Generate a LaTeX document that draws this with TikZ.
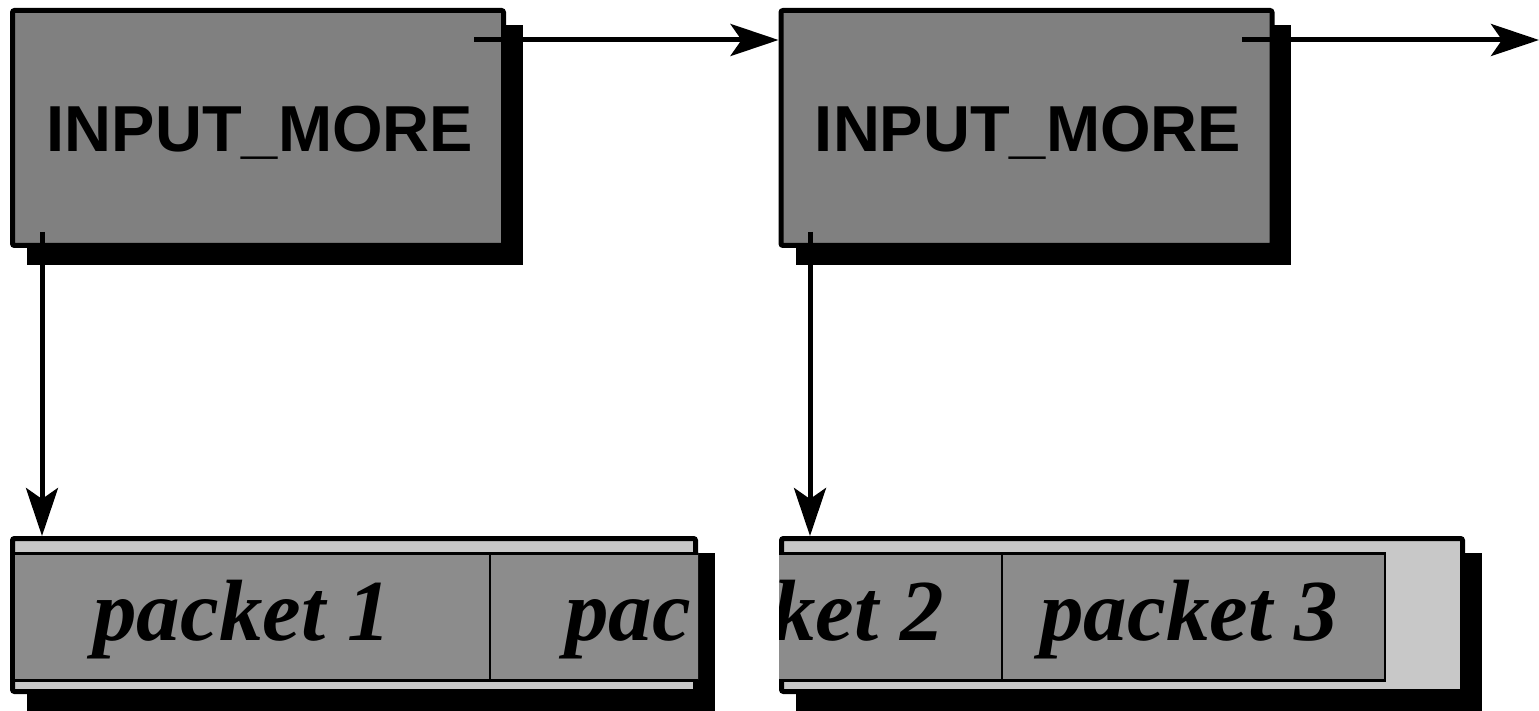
\documentclass[tikz,border=0pt]{standalone}
\usepackage{fontspec}
\setmainfont{Liberation Serif}
\newfontfamily\ctrlfont{Liberation Sans}
\usetikzlibrary{arrows.meta}
\definecolor{ctrlgray}{RGB}{128,128,128}
\definecolor{bufgray}{RGB}{200,200,200}
\definecolor{cellgray}{RGB}{140,140,140}

\begin{document}
\begin{tikzpicture}[x=1pt,y=-1pt,
  ctrlbox/.style={draw=black, line width=5pt, fill=ctrlgray, rounded corners=2pt,
    inner sep=0pt, minimum width=491pt, minimum height=235pt},
  bufbox/.style={draw=black, line width=5pt, fill=bufgray, rounded corners=2pt,
    inner sep=0pt, minimum height=153pt},
  cellbox/.style={draw=black, line width=2.5pt, fill=cellgray, inner sep=0pt,
    minimum height=127pt},
  ctrltext/.style={inner sep=0pt, font=\ctrlfont\bfseries\fontsize{65}{70}\selectfont},
  pkttext/.style={inner sep=0pt, font=\bfseries\itshape\fontsize{87}{96}\selectfont},
  link/.style={line width=5pt, -{Stealth[length=48pt,width=32pt,inset=11pt]}},
]
\useasboundingbox (0,0) rectangle (1539,711);

% ---- control blocks with drop shadows ----
\fill[black] (27,25) rectangle (523,265);
\fill[black] (796,25) rectangle (1291,265);
\node[ctrlbox] (c1) at (258,128) {};
\node[ctrlbox] (c2) at (1026.5,128) {};
\node[ctrltext, anchor=base] (c1t) at (260,152) {INPUT\_MORE};
\node[ctrltext, anchor=base] (c2t) at (1028,152) {INPUT\_MORE};

% ---- data buffers with drop shadows ----
\fill[black] (27,553) rectangle (715,711);
\fill[black] (796,553) rectangle (1482,711);
\node[bufbox, minimum width=683pt] (q1) at (354,615) {};
\node[bufbox, minimum width=681pt] (q2) at (1122,615) {};

\begin{scope}
  \clip (q1.south west) rectangle (q1.north east);
  \node[cellbox, minimum width=476.25pt] (p1) at (251.875,616.75) {};
  \node[cellbox, minimum width=410pt] (p2a) at (695,616.75) {};
  \node[pkttext, anchor=base] (p1t) at (242,640) {packet 1};
  \node[pkttext, anchor=base west] (p2at) at (565,640) {pac};
\end{scope}

\begin{scope}
  \clip (q2.south west) rectangle (q2.north east);
  \node[cellbox, minimum width=302pt] (p2b) at (851,616.75) {};
  \node[cellbox, minimum width=383pt] (p3) at (1193.5,616.75) {};
  \node[pkttext, anchor=base east] (p2bt) at (944,640) {ket 2};
  \node[pkttext, anchor=base] (p3t) at (1189,640) {packet 3};
\end{scope}

% ---- links ----
\coordinate (n1) at (474,40);
\coordinate (n2) at (1242,40);
\coordinate (n3) at (1539,40);
\coordinate (d1) at (42,232);
\coordinate (d2) at (810,232);
\draw[link] (n1) -- (n1 -| c2.west);
\draw[link] (n2) -- (n3);
\draw[link] (d1) -- (d1 |- q1.north);
\draw[link] (d2) -- (d2 |- q2.north);
\end{tikzpicture}
\end{document}
